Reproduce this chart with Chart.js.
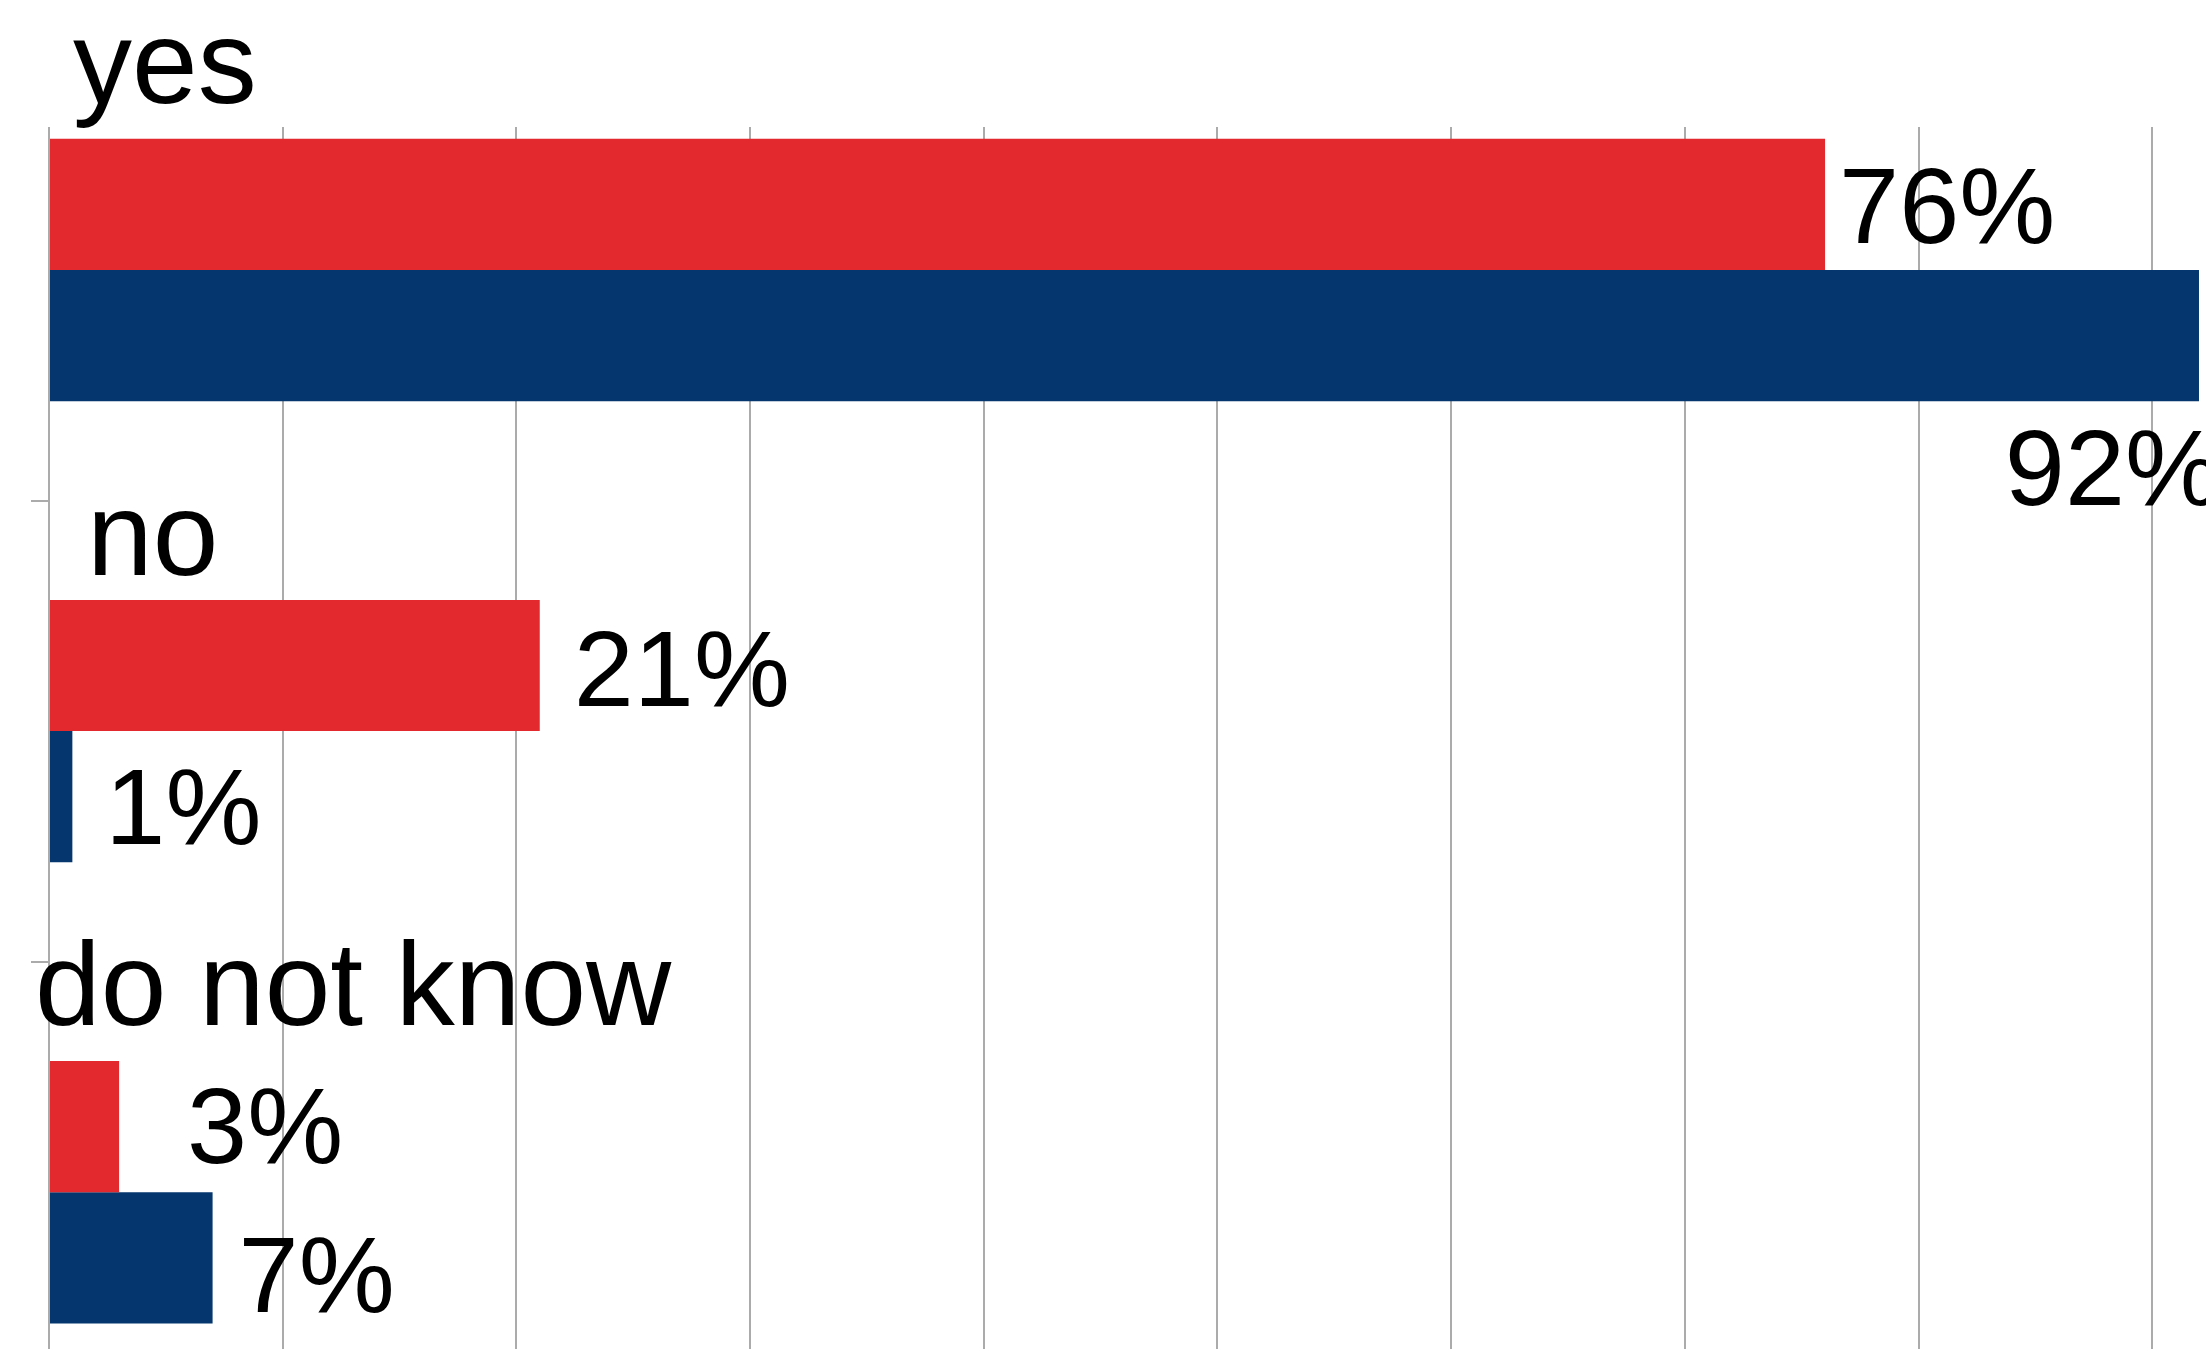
<!DOCTYPE html>
<html>
<head>
<meta charset="utf-8">
<title>Survey answers</title>
<script src="https://cdn.jsdelivr.net/npm/chart.js@4/dist/chart.umd.min.js"></script>
<style>
  html, body { margin: 0; padding: 0; background: #fff; overflow: hidden; }
  #wrap { width: 2206px; height: 1349px; position: relative; }
</style>
</head>
<body>
<div id="wrap"><canvas id="answers"></canvas></div>
<script>
const answers = ['yes', 'no', 'do not know'];
const firstGroup = [76, 21, 3];
const secondGroup = [92, 1, 7];

const RED = '#e3292e';
const BLUE = '#05366d';
const GRID = '#ababab';
const FONT = '"Liberation Sans", Arial, sans-serif';

// answers are placed at 0, 1, 2 on a linear index axis
function points(values) {
  return values.map((v, i) => ({ x: v, y: i }));
}

// answer names above each pair of bars, percentages next to the bars
const barText = {
  id: 'barText',
  afterDatasetsDraw(chart, args, opts) {
    const ctx = chart.ctx;
    const area = chart.chartArea;
    ctx.save();
    ctx.fillStyle = '#000';
    ctx.textBaseline = 'alphabetic';

    ctx.font = opts.nameSize + 'px ' + FONT;
    ctx.textAlign = 'left';
    const firstBars = chart.getDatasetMeta(0).data;
    answers.forEach((name, i) => {
      const bar = firstBars[i];
      const top = bar.y - bar.height / 2;
      const [dx, gap] = opts.nameShift[i];
      ctx.fillText(name, area.left + dx, top - gap);
    });

    ctx.font = opts.valueSize + 'px ' + FONT;
    chart.data.datasets.forEach((ds, d) => {
      chart.getDatasetMeta(d).data.forEach((bar, i) => {
        const txt = ds.data[i].x + '%';
        const w = ctx.measureText(txt).width;
        const [dx, dy] = opts.valueShift[d][i];
        if (bar.x + dx + w > area.right) {
          // no room on the right: put it under the bar end
          ctx.textAlign = 'right';
          ctx.fillText(txt, bar.x + 22, bar.y + bar.height / 2 + 104);
        } else {
          ctx.textAlign = 'left';
          ctx.fillText(txt, bar.x + dx, bar.y + 39 + dy);
        }
      });
    });
    ctx.restore();
  }
};

new Chart(document.getElementById('answers'), {
  type: 'bar',
  data: {
    datasets: [
      { label: 'Series 1', data: points(firstGroup), backgroundColor: RED },
      { label: 'Series 2', data: points(secondGroup), backgroundColor: BLUE }
    ]
  },
  options: {
    indexAxis: 'y',
    responsive: true,
    maintainAspectRatio: false,
    animation: false,
    events: [],
    layout: { padding: { top: 127, left: 0, right: 0, bottom: 0 } },
    datasets: {
      bar: { barPercentage: 1, categoryPercentage: 0.569, borderWidth: 0 }
    },
    plugins: {
      legend: { display: false },
      tooltip: { enabled: false },
      barText: {
        nameSize: 118,
        valueSize: 108,
        nameShift: [[24, 36], [38, 25], [-14, 36]],
        valueShift: [
          [[14, 0], [34, 2], [68, -3]],
          [[28, 0], [33, 8], [26, 15]]
        ]
      }
    },
    scales: {
      x: {
        min: 0,
        max: 92.3,
        ticks: { display: false, stepSize: 10, includeBounds: false },
        grid: { color: GRID, lineWidth: 2, drawTicks: false },
        border: { display: false },
        afterFit(scale) { scale.height = 0; }
      },
      y: {
        type: 'linear',
        reverse: true,
        offset: false,
        min: -0.31,
        max: 2.34,
        afterBuildTicks(scale) { scale.ticks = [{ value: 0.5 }, { value: 1.5 }]; },
        afterFit(scale) { scale.width = 49; },
        ticks: { display: false },
        grid: { offset: false, drawOnChartArea: false, tickLength: 18, color: GRID, lineWidth: 2 },
        border: { display: false }
      }
    }
  },
  plugins: [barText]
});
</script>
</body>
</html>
